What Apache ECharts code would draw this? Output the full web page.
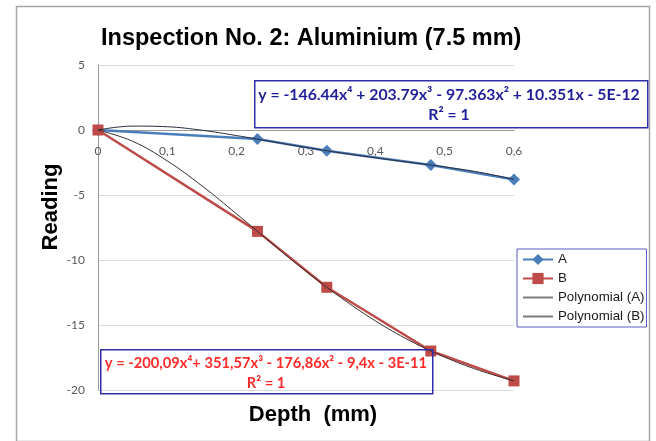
<!DOCTYPE html>
<html>
<head>
<meta charset="utf-8">
<script src="https://cdn.jsdelivr.net/npm/echarts@6/dist/echarts.min.js"></script>
<style>
html,body{margin:0;padding:0;background:#fff;}
#chart{width:656px;height:441px;}
</style>
</head>
<body>
<div id="chart"></div>
<script>
// Measured points
var depth = [0, 0.23, 0.33, 0.48, 0.6];
var readingA = [0, -0.7, -1.6, -2.7, -3.8];
var readingB = [0, -7.8, -12.1, -17.0, -19.3];

// Polynomial trendline curves
var trendDepth = [0, 0.05, 0.1, 0.15, 0.2, 0.25, 0.3, 0.35, 0.4, 0.45, 0.5, 0.55, 0.6];
var trendA = [0, 0.30, 0.25, -0.02, -0.43, -0.89, -1.34, -1.76, -2.14, -2.49, -2.84, -3.25, -3.80];
var trendB = [0, -0.87, -2.38, -4.30, -6.46, -8.69, -10.87, -12.88, -14.68, -16.21, -17.47, -18.49, -19.30];

var seriesNames = ['A', 'B', 'Polynomial (A)', 'Polynomial (B)'];
var yTicks = [-20, -15, -10, -5, 0, 5];
var xTicks = [0, 0.1, 0.2, 0.3, 0.4, 0.5, 0.6];

var eqA = ['y = -146.44x\u2074 + 203.79x\u00b3 - 97.363x\u00b2 + 10.351x - 5E-12', 'R\u00b2 = 1'];
var eqB = ['y = -200,09x\u2074+ 351,57x\u00b3 - 176,86x\u00b2 - 9,4x - 3E-11', 'R\u00b2 = 1'];
var titleText = 'Inspection No. 2: Aluminium (7.5 mm)';
var xTitle = 'Depth  (mm)';
var yTitle = 'Reading';

function pairs(xs, ys) { return xs.map(function (x, i) { return [x, ys[i]]; }); }

var chart = echarts.init(document.getElementById('chart'), null, {renderer: 'canvas'});
var sans = 'Liberation Sans, Arial, sans-serif';
var cal = 'Lato, Liberation Sans, sans-serif';

var gridTop = 65, gridBottom = 51, chartH = 441;
var plotH = chartH - gridTop - gridBottom;
var yMin = yTicks[0], yMax = yTicks[yTicks.length - 1];
// shift the horizontal axis up so it crosses the vertical axis at zero
var xAxisOffset = -plotH * (0 - yMin) / (yMax - yMin);

chart.setOption({
  animation: false,
  backgroundColor: '#ffffff',
  title: {
    text: titleText, left: 96, top: 22, itemGap: 0,
    textStyle: {fontFamily: sans, fontSize: 23.5, fontWeight: 'bold', color: '#000'}
  },
  grid: {left: 98, right: 142, top: gridTop, bottom: gridBottom, containLabel: false},
  legend: {
    data: [
      {name: seriesNames[0]},
      {name: seriesNames[1]},
      {name: seriesNames[2], itemStyle: {opacity: 0}, lineStyle: {color: '#7a7a7a'}},
      {name: seriesNames[3], itemStyle: {opacity: 0}, lineStyle: {color: '#7a7a7a'}}
    ],
    orient: 'vertical', left: 517, top: 249,
    borderColor: '#5a5ac8', borderWidth: 1, backgroundColor: '#fff',
    padding: [4, 2, 4, 5], itemGap: 6, itemWidth: 30, itemHeight: 14,
    textStyle: {fontFamily: sans, fontSize: 13.3, color: '#1a1a1a'}
  },
  xAxis: {
    type: 'value', min: xTicks[0], max: xTicks[xTicks.length - 1], interval: 0.1,
    offset: xAxisOffset,
    axisLine: {show: true, onZero: false, lineStyle: {color: '#9a9a9a', width: 1}},
    axisTick: {show: false},
    splitLine: {show: false},
    axisLabel: {
      margin: 15, color: '#595959', fontFamily: cal, fontSize: 12,
      formatter: function (v) { return v === 0 ? '0' : v.toFixed(1).replace('.', ','); }
    }
  },
  yAxis: {
    type: 'value', min: yMin, max: yMax, interval: 5,
    axisLine: {show: true, onZero: false, lineStyle: {color: '#9a9a9a', width: 1}},
    axisTick: {show: false},
    splitLine: {show: true, lineStyle: {color: '#d9d9d9', width: 1}},
    axisLabel: {margin: 13, color: '#595959', fontFamily: cal, fontSize: 12}
  },
  series: [
    {
      name: seriesNames[0], type: 'line', data: pairs(depth, readingA),
      symbol: 'diamond', symbolSize: 12, color: '#4A7EBB',
      lineStyle: {width: 2.5, color: '#4A7EBB'}, itemStyle: {color: '#4A7EBB'}, z: 2
    },
    {
      name: seriesNames[1], type: 'line', data: pairs(depth, readingB),
      symbol: 'rect', symbolSize: 11, color: '#BE4B48',
      lineStyle: {width: 2.5, color: '#BE4B48'}, itemStyle: {color: '#BE4B48'}, z: 2
    },
    {
      name: seriesNames[2], type: 'line', data: pairs(trendDepth, trendA),
      smooth: 0.4, symbol: 'none', showSymbol: false, color: '#505050',
      lineStyle: {width: 1, color: '#2a2a3a'}, z: 3
    },
    {
      name: seriesNames[3], type: 'line', data: pairs(trendDepth, trendB),
      smooth: 0.4, symbol: 'none', showSymbol: false, color: '#505050',
      lineStyle: {width: 1, color: '#3a2a2a'}, z: 3
    }
  ],
  graphic: [
    {type: 'rect', left: 14, top: 4, z: -10, silent: true,
     shape: {width: 633, height: 435}, style: {fill: 'none', stroke: '#a6a6a6', lineWidth: 1.5}},
    {type: 'text', z: 10, x: 313, y: 415, silent: true,
     style: {text: xTitle, fill: '#000', font: 'bold 22px ' + sans, align: 'center', verticalAlign: 'middle'}},
    {type: 'text', z: 10, x: 51, y: 207, rotation: Math.PI / 2, silent: true,
     style: {text: yTitle, fill: '#000', font: 'bold 22px ' + sans, align: 'center', verticalAlign: 'middle'}},
    {type: 'rect', left: 254, top: 80, z: 10, silent: true,
     shape: {width: 393, height: 47}, style: {fill: 'rgba(255,255,255,0)', stroke: '#2e2ea8', lineWidth: 1.5}},
    {type: 'text', z: 11, x: 449, y: 95, silent: true,
     style: {text: eqA[0], fill: '#1f1f9a', font: 'bold 15.8px ' + cal, align: 'center', verticalAlign: 'middle'}},
    {type: 'text', z: 11, x: 449, y: 115, silent: true,
     style: {text: eqA[1], fill: '#1f1f9a', font: 'bold 15.8px ' + cal, align: 'center', verticalAlign: 'middle'}},
    {type: 'rect', left: 100, top: 349, z: 10, silent: true,
     shape: {width: 332, height: 44}, style: {fill: 'rgba(255,255,255,0)', stroke: '#2e2ea8', lineWidth: 1.5}},
    {type: 'text', z: 11, x: 266, y: 363, silent: true,
     style: {text: eqB[0], fill: '#ff2a2a', font: 'bold 14.7px ' + cal, align: 'center', verticalAlign: 'middle'}},
    {type: 'text', z: 11, x: 266, y: 383, silent: true,
     style: {text: eqB[1], fill: '#ff2a2a', font: 'bold 14.7px ' + cal, align: 'center', verticalAlign: 'middle'}}
  ]
});
</script>
</body>
</html>
